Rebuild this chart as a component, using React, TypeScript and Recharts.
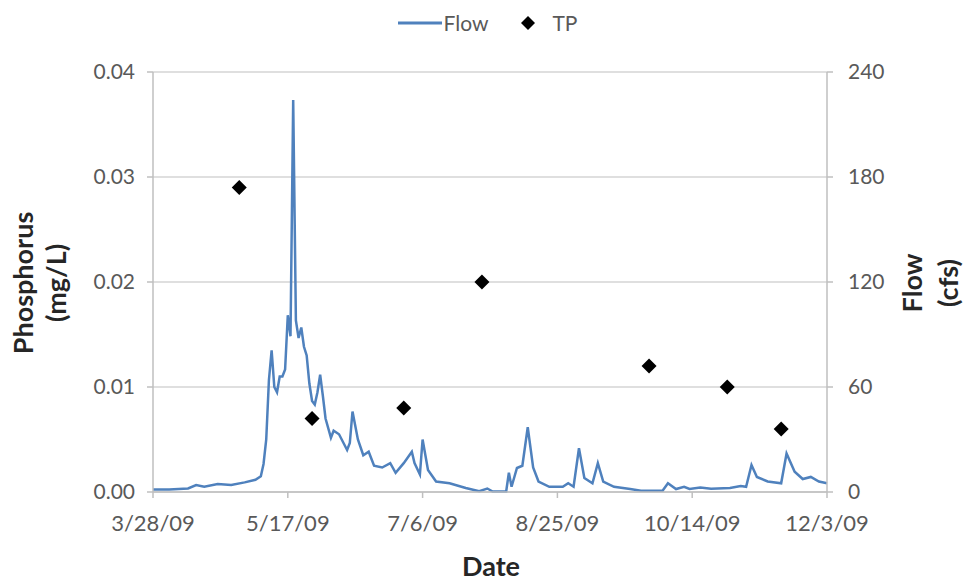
import React from "react";
import {
  ComposedChart,
  Line,
  Scatter,
  XAxis,
  YAxis,
  CartesianGrid,
  Legend,
  Label,
} from "recharts";

// Days counted from 3/28/09
const flowDays = [
  0, 6, 13, 16, 19, 24, 29, 34, 38, 40, 41, 42, 43, 44, 45, 46, 47, 48, 49, 50,
  51, 52, 53, 54, 55, 56, 57, 58, 59, 60, 61, 62, 63, 64, 66, 67, 69, 72, 73, 74,
  76, 78, 80, 82, 85, 88, 90, 93, 96, 97, 99, 100, 102, 105, 110, 116, 121, 124,
  126, 131, 132, 133, 135, 137, 139, 141, 143, 147, 152, 154, 156, 158, 160, 163,
  165, 167, 171, 177, 181, 189, 191, 194, 197, 199, 203, 207, 214, 218, 220, 222,
  224, 228, 233, 235, 238, 241, 244, 247, 250,
];
const flowValues = [
  1.5, 1.5, 2, 4, 3, 4.5, 4, 5.5, 7, 9, 16, 30, 64, 81, 60, 57, 66, 66, 70, 101,
  89, 224, 98, 88, 94, 83, 78, 62, 52, 50, 57, 67, 55, 42, 31, 35, 33, 24, 28, 46,
  30, 21, 23, 15, 14, 16.5, 11, 16.5, 23, 16.5, 10, 30, 12.6, 6, 5, 2.3, 0.5, 2,
  0.3, 0.3, 11, 3, 13.7, 15, 37, 14, 6, 3, 3, 5, 3, 25, 8, 5,
  16.5, 6, 3, 1.7, 0.7, 0.7, 5, 1.7, 3, 1.7, 2.5, 1.8, 2.3, 3.4, 3, 15.4,
  8.6, 6, 5, 22, 11.6, 7.4, 8.6, 6, 5,
];

const tpDays = [32, 59, 93, 122, 184, 213, 233];
const tpValues = [0.029, 0.007, 0.008, 0.02, 0.012, 0.01, 0.006];

const xTicks = [0, 50, 100, 150, 200, 250];
const xTickLabels = ["3/28/09", "5/17/09", "7/6/09", "8/25/09", "10/14/09", "12/3/09"];
const leftTicks = [0, 0.01, 0.02, 0.03, 0.04];
const rightTicks = [0, 60, 120, 180, 240];

const flowData = flowDays.map((d, i) => ({ day: d, flow: flowValues[i] }));
const tpData = tpDays.map((d, i) => ({ day: d, tp: tpValues[i] }));

const FONT = "Lato, 'DejaVu Sans', sans-serif";
const TICK_COLOR = "#595959";
const TITLE_COLOR = "#262626";
const FLOW_COLOR = "#4f81bd";
const AXIS_COLOR = "#bfbfbf";

const W = 963;
const H = 580;

const Diamond = (props: any) => {
  const { cx, cy } = props;
  if (cx == null || cy == null) return null;
  return (
    <path
      d={`M${cx},${cy - 7.5} L${cx + 7.5},${cy} L${cx},${cy + 7.5} L${cx - 7.5},${cy} Z`}
      fill="#000"
    />
  );
};

const renderLegend = () => (
  <div
    style={{
      display: "flex",
      justifyContent: "center",
      alignItems: "center",
      fontFamily: FONT,
      fontSize: 21,
      color: TICK_COLOR,
      paddingLeft: 12,
    }}
  >
    <svg width={44} height={6} style={{ marginRight: 2 }}>
      <line x1={0} y1={3} x2={44} y2={3} stroke={FLOW_COLOR} strokeWidth={3} />
    </svg>
    <span>Flow</span>
    <svg width={16} height={16} style={{ marginLeft: 32, marginRight: 16 }}>
      <path d="M8,1 L15,8 L8,15 L1,8 Z" fill="#000" />
    </svg>
    <span>TP</span>
  </div>
);

const RotTitle = ({ x, y, text }: { x: number; y: number; text: string }) => (
  <text
    x={x}
    y={y}
    transform={`rotate(-90 ${x} ${y})`}
    textAnchor="middle"
    dominantBaseline="central"
    fontFamily={FONT}
    fontWeight="bold"
    fontSize={27}
    fill={TITLE_COLOR}
  >
    {text}
  </text>
);

const leftTitle = () => (
  <g>
    <RotTitle x={22} y={283} text="Phosphorus" />
    <RotTitle x={55} y={283} text="(mg/L)" />
  </g>
);

const rightTitle = () => (
  <g>
    <RotTitle x={911} y={283} text="Flow" />
    <RotTitle x={947} y={283} text="(cfs)" />
  </g>
);

const xTitle = () => (
  <text
    x={491}
    y={565}
    textAnchor="middle"
    dominantBaseline="central"
    fontFamily={FONT}
    fontWeight="bold"
    fontSize={27}
    fill={TITLE_COLOR}
  >
    Date
  </text>
);

export default function App() {
  return (
    <div
      style={{
        position: "fixed",
        top: 0,
        left: 0,
        width: W,
        height: H,
        fontFamily: FONT,
        background: "#fff",
      }}
    >
      <ComposedChart
        width={W}
        height={H}
        margin={{ top: 72, right: 76, bottom: 48, left: 93 }}
      >
        <CartesianGrid
          yAxisId="left"
          vertical={false}
          stroke="#d4d4d4"
          strokeWidth={1.5}
        />
        <XAxis
          dataKey="day"
          type="number"
          domain={[0, 250]}
          ticks={xTicks}
          tickFormatter={(v: number) => xTickLabels[xTicks.indexOf(v)] ?? ""}
          height={40}
          tickSize={6}
          tickMargin={17}
          stroke={AXIS_COLOR}
          strokeWidth={1.5}
          tick={{ fill: TICK_COLOR, fontSize: 22, fontFamily: FONT }}
          interval={0}
        >
          <Label content={xTitle} />
        </XAxis>
        <YAxis
          yAxisId="left"
          domain={[0, 0.04]}
          ticks={leftTicks}
          tickFormatter={(v: number) => v.toFixed(2)}
          width={60}
          tickSize={6}
          tickMargin={12}
          stroke={AXIS_COLOR}
          strokeWidth={1.5}
          tick={{ fill: TICK_COLOR, fontSize: 21, fontFamily: FONT }}
          interval={0}
        >
          <Label content={leftTitle} />
        </YAxis>
        <YAxis
          yAxisId="right"
          orientation="right"
          domain={[0, 240]}
          ticks={rightTicks}
          width={60}
          tickSize={6}
          tickMargin={15}
          stroke={AXIS_COLOR}
          strokeWidth={1.5}
          tick={{ fill: TICK_COLOR, fontSize: 21, fontFamily: FONT }}
          interval={0}
        >
          <Label content={rightTitle} />
        </YAxis>
        <Legend
          layout="horizontal"
          verticalAlign="middle"
          align="center"
          content={renderLegend}
          wrapperStyle={{ top: 10, left: 0, width: W, height: 26 }}
        />
        <Line
          yAxisId="right"
          data={flowData}
          dataKey="flow"
          name="Flow"
          type="linear"
          stroke={FLOW_COLOR}
          strokeWidth={2.5}
          dot={false}
          activeDot={false}
          isAnimationActive={false}
        />
        <Scatter
          yAxisId="left"
          data={tpData}
          dataKey="tp"
          name="TP"
          fill="#000"
          shape={Diamond}
          isAnimationActive={false}
        />
      </ComposedChart>
    </div>
  );
}
